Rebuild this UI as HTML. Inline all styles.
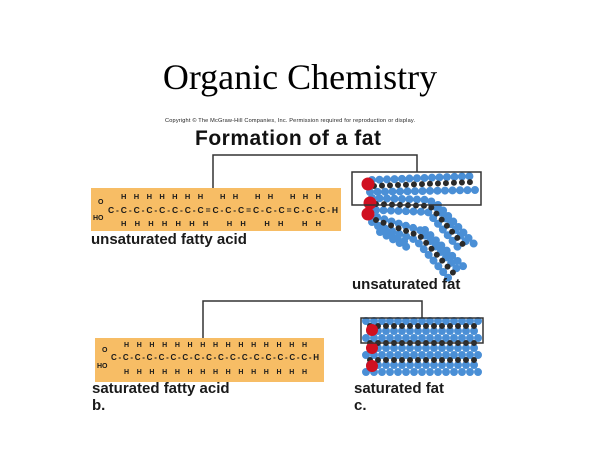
<!DOCTYPE html>
<html><head><meta charset="utf-8"><style>
html,body{margin:0;padding:0;background:#fff;width:600px;height:450px;overflow:hidden}
</style></head><body>
<svg width="600" height="450" xmlns="http://www.w3.org/2000/svg">
<text x="300" y="89" text-anchor="middle" font-family="Liberation Serif" font-size="36" fill="#000">Organic Chemistry</text>
<text x="165" y="122" font-family="Liberation Sans" font-size="5.6" textLength="250" fill="#222">Copyright © The McGraw-Hill Companies, Inc. Permission required for reproduction or display.</text>
<text x="195" y="145" font-family="Liberation Sans" font-weight="bold" font-size="21" textLength="186" fill="#111">Formation of a fat</text>
<rect x="91" y="188" width="250" height="43" fill="#f7bd65"/>
<rect x="95" y="338" width="229" height="44" fill="#f7bd65"/>
<g fill="none" stroke-linecap="round">
<!-- saturated -->
<g stroke="#4a8fd6" stroke-width="8" stroke-dasharray="0 8">
<path d="M366 321H482M370 331H482M366 338H482M370 348H482M366 355H482M370 365H482M366 372H482"/>
</g>
<g stroke="#2a2a2a" stroke-width="6" stroke-dasharray="0 8">
<path d="M370 326H480M370 343H480M370 360H480"/>
</g>
<!-- unsaturated -->
<g stroke="#4a8fd6" stroke-width="8" stroke-dasharray="0 7.5">
<path d="M372 180L475 176M370 192L475 190"/>
<path d="M372 198L430 200L468 244M376 210L428 212L462 252M438 205L475 245"/>
<path d="M370 215L420 230L458 270M378 226L416 240L450 280M425 230L465 268"/>
<path d="M372 222L405 242M380 232L412 250"/>
</g>
<g stroke="#2a2a2a" stroke-width="6" stroke-dasharray="0 8">
<path d="M374 186L474 182"/>
<path d="M376 204L430 206L466 248"/>
<path d="M376 220L420 236L456 276"/>
</g>
</g>
<g fill="#d01020">
<circle cx="372" cy="330" r="6"/><circle cx="372" cy="348" r="6"/><circle cx="372" cy="366" r="6"/>
<circle cx="368" cy="184" r="6.5"/><circle cx="370" cy="203" r="6.5"/><circle cx="368" cy="214" r="6.5"/>
</g>
<g fill="none" stroke="#333" stroke-width="1.5">
<polyline points="213,188 213,155 417,155 417,172"/>
<rect x="352" y="172" width="129" height="33"/>
<polyline points="203,338 203,301 422,301 422,318"/>
<rect x="361" y="318" width="122" height="25"/>
</g>
<g font-family="Liberation Sans" font-weight="bold" fill="#1a1a1a">
<text x="98" y="204" font-size="7">O</text><text x="93" y="220" font-size="7">HO</text>
<text x="108" y="213" font-size="8.5" textLength="230">C-C-C-C-C-C-C-C=C-C-C=C-C-C=C-C-C-H</text>
<text x="121" y="199" font-size="7.5" xml:space="preserve" textLength="200">H H H H H H H   H H   H H   H H H</text>
<text x="121" y="226" font-size="7.5" xml:space="preserve" textLength="200">H H H H H H H   H H   H H   H H</text>
<text x="102" y="352" font-size="7">O</text><text x="97" y="368" font-size="7">HO</text>
<text x="111" y="360" font-size="8" textLength="208">C-C-C-C-C-C-C-C-C-C-C-C-C-C-C-C-C-H</text>
<text x="124" y="347" font-size="7" textLength="183">H H H H H H H H H H H H H H H</text>
<text x="124" y="374" font-size="7" textLength="183">H H H H H H H H H H H H H H H</text>
<text x="91" y="244" font-size="15">unsaturated fatty acid</text>
<text x="352" y="289" font-size="15">unsaturated fat</text>
<text x="92" y="393" font-size="15">saturated fatty acid</text>
<text x="92" y="410" font-size="15">b.</text>
<text x="354" y="393" font-size="15">saturated fat</text>
<text x="354" y="410" font-size="15">c.</text>
</g>
</svg>
</body></html>
